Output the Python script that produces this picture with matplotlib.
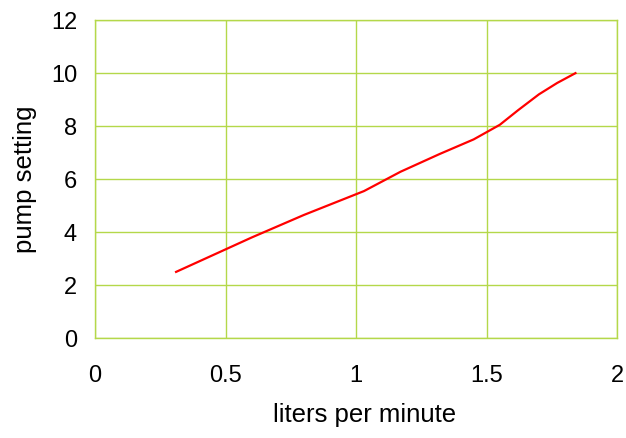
import matplotlib
matplotlib.use('Agg')
import matplotlib.pyplot as plt

# data
lpm = [0.31, 0.6, 0.8, 1.03, 1.17, 1.32, 1.45, 1.55, 1.62, 1.7, 1.77, 1.84]
setting = [2.5, 3.8, 4.65, 5.55, 6.28, 6.95, 7.5, 8.05, 8.6, 9.2, 9.63, 10.0]

x_ticks = [0, 0.5, 1, 1.5, 2]
x_tick_labels = ['0', '0.5', '1', '1.5', '2']
y_ticks = [0, 2, 4, 6, 8, 10, 12]

plt.rcParams['font.family'] = ['Liberation Sans', 'DejaVu Sans']
grid_c = '#b4d84a'

fig = plt.figure(figsize=(6.26, 4.38), dpi=100)
ax = fig.add_axes([0.152, 0.228, 0.834, 0.726])

ax.plot(lpm, setting, c='#ff0000', lw=1.6)

ax.set_xlim(0, 2)
ax.set_ylim(0, 12)
ax.set_xticks(x_ticks)
ax.set_xticklabels(x_tick_labels)
ax.set_yticks(y_ticks)
ax.grid(True, color=grid_c, lw=1)
ax.set_axisbelow(True)
for s in ax.spines.values():
    s.set_color(grid_c)
    s.set_linewidth(1)
ax.tick_params(axis='both', length=0, labelsize=17)
ax.tick_params(axis='x', pad=19)
ax.tick_params(axis='y', pad=13)

ax.set_xlabel('liters per minute', fontsize=18.5)
ax.set_ylabel('pump setting', fontsize=18.5, labelpad=10)
ax.xaxis.set_label_coords(0.516, -0.205)

fig.savefig('out.png', dpi=100)
